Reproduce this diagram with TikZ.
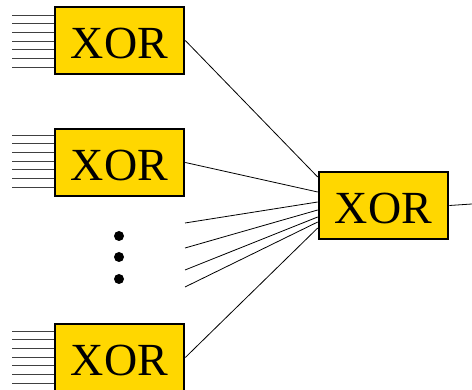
\documentclass[tikz,border=0pt]{standalone}
\usepackage{fontspec}
\setmainfont{Liberation Serif}
\definecolor{xorgold}{RGB}{255,215,0}
\tikzset{
  xorbox/.style={draw=black, line width=2.6pt, fill=xorgold, minimum width=129pt, minimum height=67pt, inner sep=0pt, text height=35.4pt, text depth=0pt, font=\fontsize{46}{46}\selectfont},
  wire/.style={line width=0.8pt, black},
  inwire/.style={line width=0.9pt, black!75},
  dotmark/.style={circle, fill=black, inner sep=0pt, minimum size=10pt}
}
\begin{document}
\begin{tikzpicture}[x=1pt,y=-1pt]
\useasboundingbox (0,0) rectangle (472,390);
% input wires
\foreach \y in {15,23.7,32.3,41,49.7,58.3,67} {\draw[inwire] (12,\y) -- (54,\y);}
\foreach \y in {135,143.7,152.3,161,169.7,178.3,187} {\draw[inwire] (12,\y) -- (54,\y);}
\foreach \y in {331,339.7,348.3,357,365.7,374.3,383} {\draw[inwire] (12,\y) -- (54,\y);}
\node[xorbox] (b1) at (119.5,40.5) {XOR};
\node[xorbox] (b2) at (119.5,162.5) {XOR};
\node[xorbox] (b3) at (119.5,357.5) {XOR};
\node[xorbox] (big) at (383.5,205.5) {XOR};
\node[dotmark] (d1) at (119,236) {};
\node[dotmark] (d2) at (119,257) {};
\node[dotmark] (d3) at (119,279) {};
\coordinate (f1) at (185,223);
\coordinate (f2) at (185,248);
\coordinate (f3) at (185,270);
\coordinate (f4) at (185,287);
\coordinate (out) at (472,204);
\draw[wire] (b1.east) -- ([yshift=28.5pt]big.west);
\draw[wire] (b2.east) -- ([yshift=13.5pt]big.west);
\draw[wire] (f1) -- ([yshift=3.5pt]big.west);
\draw[wire] (f2) -- ([yshift=-4.5pt]big.west);
\draw[wire] (f3) -- ([yshift=-11.5pt]big.west);
\draw[wire] (f4) -- ([yshift=-16.5pt]big.west);
\draw[wire] (b3.east) -- ([yshift=-22.5pt]big.west);
\draw[wire] (big.east) -- (out);
\end{tikzpicture}
\end{document}
